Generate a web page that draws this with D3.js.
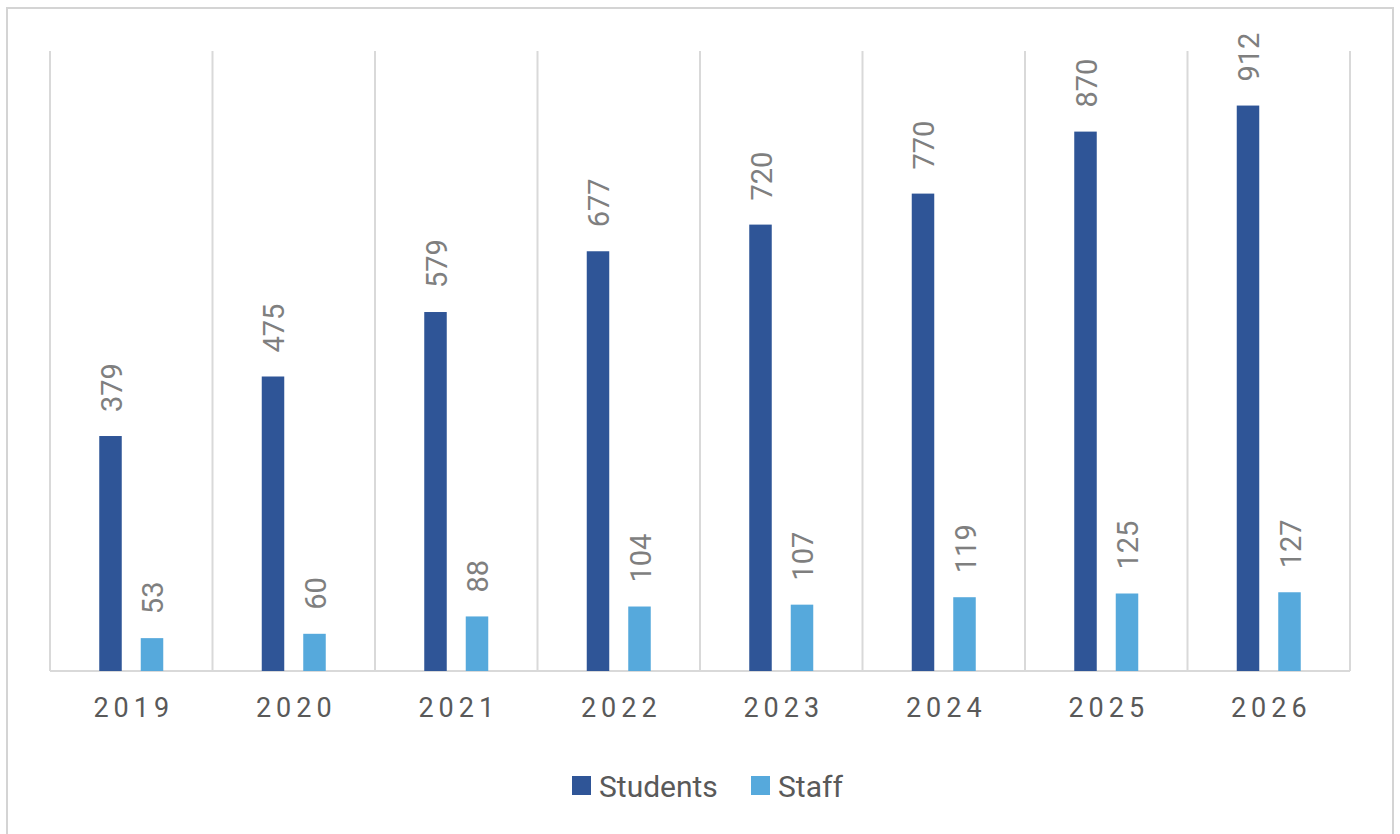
<html>
<head>
<style>
  body { margin: 0; background: #fff; }
  text { font-family: Roboto, "Liberation Sans", sans-serif; }
</style>
</head>
<body>
<script src="https://cdn.jsdelivr.net/npm/d3@7"></script>

<div id="container1"></div>

<script>

const years = ["2019", "2020", "2021", "2022", "2023", "2024", "2025", "2026"];
const students = [379, 475, 579, 677, 720, 770, 870, 912];
const staff = [53, 60, 88, 104, 107, 119, 125, 127];
const seriesNames = ["Students", "Staff"];
const colors = ["#2f5597", "#56a9dc"];

const W = 1400, H = 834;
const margin = {top: 51, right: 50, bottom: 163, left: 50},
    width = W - margin.left - margin.right,
    height = H - margin.top - margin.bottom;

const root = d3.select("#container1")
  .append("svg")
    .attr("width", W)
    .attr("height", H);

// outer chart border
root.append("rect")
    .attr("x", 7).attr("y", 8)
    .attr("width", 1386).attr("height", 840)
    .attr("fill", "#fff")
    .attr("stroke", "#d4d4d4")
    .attr("stroke-width", 2);

const svg = root.append("g")
    .attr("transform", `translate(${margin.left},${margin.top})`);

const x = d3.scaleBand()
    .domain(years)
    .range([0, width])
    .paddingInner(0).paddingOuter(0);

const y = d3.scaleLinear()
    .domain([0, 1000])
    .range([height, 0]);

// vertical category gridlines
const bounds = d3.range(years.length + 1).map(i => i * x.bandwidth());
svg.selectAll(".vgrid")
  .data(bounds)
  .join("line")
    .attr("class", "vgrid")
    .attr("x1", d => d).attr("x2", d => d)
    .attr("y1", 0).attr("y2", height)
    .attr("stroke", "#d9d9d9")
    .attr("stroke-width", 2);

// baseline
svg.append("line")
    .attr("x1", 0).attr("x2", width)
    .attr("y1", height).attr("y2", height)
    .attr("stroke", "#d9d9d9")
    .attr("stroke-width", 2);

const barW = 22.5, offset = 20.75;

const rows = [];
years.forEach((yr, i) => {
  rows.push({year: yr, s: 0, v: students[i]});
  rows.push({year: yr, s: 1, v: staff[i]});
});

const cx = d => x(d.year) + x.bandwidth() / 2 + (d.s === 0 ? -offset : offset);

svg.selectAll("rect.bar")
  .data(rows)
  .join("rect")
    .attr("class", "bar")
    .attr("x", d => cx(d) - barW / 2)
    .attr("y", d => y(d.v))
    .attr("width", barW)
    .attr("height", d => height - y(d.v))
    .attr("fill", d => colors[d.s]);

// rotated value labels
svg.selectAll("text.lbl")
  .data(rows)
  .join("text")
    .attr("class", "lbl")
    .attr("transform", d => `translate(${cx(d) + 1},${y(d.v) - 24}) rotate(-90)`)
    .attr("text-anchor", "start")
    .attr("dominant-baseline", "central")
    .attr("fill", "#7f7f7f")
    .style("font-size", "29px")
    .text(d => d.v);

// x axis labels
svg.selectAll("text.xl")
  .data(years)
  .join("text")
    .attr("class", "xl")
    .attr("x", d => x(d) + x.bandwidth() / 2 + 2.5)
    .attr("y", height + 37)
    .attr("text-anchor", "middle")
    .attr("dominant-baseline", "central")
    .attr("fill", "#595959")
    .style("font-size", "27px")
    .style("letter-spacing", "5px")
    .text(d => d);

// legend
const leg = root.append("g");
const legItems = [{name: seriesNames[0], x: 572, c: colors[0]}, {name: seriesNames[1], x: 751, c: colors[1]}];
legItems.forEach(d => {
  leg.append("rect").attr("x", d.x).attr("y", 776).attr("width", 19).attr("height", 19).attr("fill", d.c);
  leg.append("text").attr("x", d.x + 27).attr("y", 786)
    .attr("dominant-baseline", "central")
    .attr("fill", "#595959")
    .style("font-size", "30px")
    .text(d.name);
});

</script>
</body>
</html>
